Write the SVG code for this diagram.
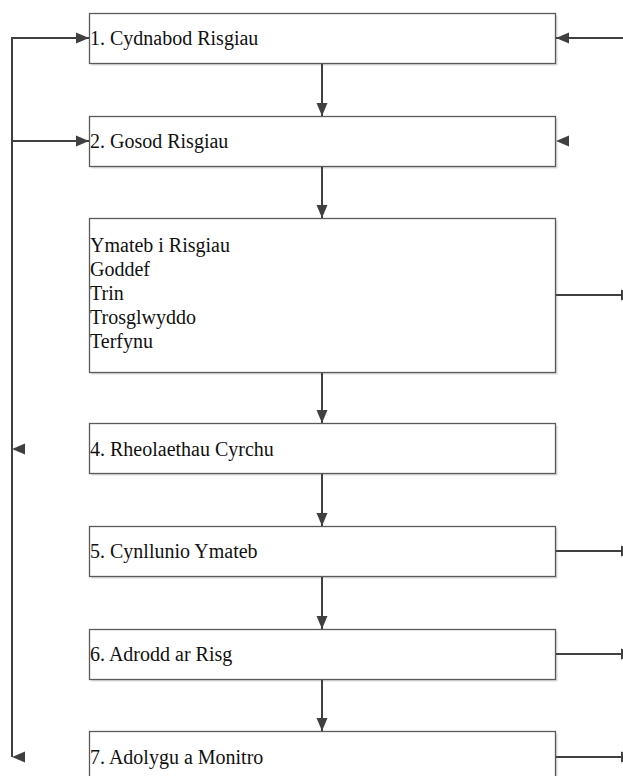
<svg xmlns="http://www.w3.org/2000/svg" width="623" height="776" viewBox="0 0 623 776">
<style>
.box{fill:#ffffff;stroke:#5a5a5a;stroke-width:1.3}
.sh{fill:#dcdcdc}
.t{font-family:"Liberation Serif","Times New Roman",serif;font-size:20px;fill:#111}
.c{fill:none;stroke:#404040;stroke-width:2}
.h{fill:#404040}
</style>
<defs>
<marker id="ar" markerUnits="userSpaceOnUse" markerWidth="13" markerHeight="13" viewBox="0 0 13 13" refX="13" refY="6.5" orient="auto">
<path d="M0,1 L13,6.5 L0,12 z" fill="#404040"/>
</marker>
</defs>
<rect width="623" height="776" fill="#ffffff"/>
<g id="n1"><rect class="sh" x="91.5" y="15.5" width="466" height="50"/><rect class="box" x="89.5" y="13.5" width="466" height="50"/><text class="t" x="90" y="45">1. Cydnabod Risgiau</text></g>
<g id="n2"><rect class="sh" x="91.5" y="118.5" width="466" height="50"/><rect class="box" x="89.5" y="116.5" width="466" height="50"/><text class="t" x="90" y="148">2. Gosod Risgiau</text></g>
<g id="n3"><rect class="sh" x="91.5" y="220.5" width="466" height="154"/><rect class="box" x="89.5" y="218.5" width="466" height="154"/><text class="t" x="90" y="252">Ymateb i Risgiau</text><text class="t" x="90" y="276">Goddef</text><text class="t" x="90" y="300">Trin</text><text class="t" x="90" y="324">Trosglwyddo</text><text class="t" x="90" y="348">Terfynu</text></g>
<g id="n4"><rect class="sh" x="91.5" y="425.5" width="466" height="50"/><rect class="box" x="89.5" y="423.5" width="466" height="50"/><text class="t" x="90" y="456">4. Rheolaethau Cyrchu</text></g>
<g id="n5"><rect class="sh" x="91.5" y="528.5" width="466" height="50"/><rect class="box" x="89.5" y="526.5" width="466" height="50"/><text class="t" x="90" y="558">5. Cynllunio Ymateb</text></g>
<g id="n6"><rect class="sh" x="91.5" y="631.5" width="466" height="50"/><rect class="box" x="89.5" y="629.5" width="466" height="50"/><text class="t" x="90" y="661">6. Adrodd ar Risg</text></g>
<g id="n7"><rect class="sh" x="91.5" y="733.5" width="466" height="50"/><rect class="box" x="89.5" y="731.5" width="466" height="50"/><text class="t" x="90" y="764">7. Adolygu a Monitro</text></g>
<g id="connectors">
<line class="c" x1="322" y1="64" x2="322" y2="116" marker-end="url(#ar)"/>
<line class="c" x1="322" y1="167" x2="322" y2="218" marker-end="url(#ar)"/>
<line class="c" x1="322" y1="373" x2="322" y2="423" marker-end="url(#ar)"/>
<line class="c" x1="322" y1="474" x2="322" y2="526" marker-end="url(#ar)"/>
<line class="c" x1="322" y1="577" x2="322" y2="629" marker-end="url(#ar)"/>
<line class="c" x1="322" y1="680" x2="322" y2="731" marker-end="url(#ar)"/>
<path class="c" d="M12,757 L12,38 L89,38" marker-end="url(#ar)"/>
<line class="c" x1="12" y1="141" x2="89" y2="141" marker-end="url(#ar)"/>
<polygon class="h" points="12,449 25,443.5 25,454.5"/>
<polygon class="h" points="12,757 25,751.5 25,762.5"/>
<line class="c" x1="623" y1="38" x2="556" y2="38" marker-end="url(#ar)"/>
<polygon class="h" points="556,141 569,135.5 569,146.5"/>
<line class="c" x1="556" y1="295" x2="634" y2="295" marker-end="url(#ar)"/>
<line class="c" x1="556" y1="551" x2="634" y2="551" marker-end="url(#ar)"/>
<line class="c" x1="556" y1="654" x2="634" y2="654" marker-end="url(#ar)"/>
<line class="c" x1="556" y1="757" x2="634" y2="757" marker-end="url(#ar)"/>
</g>
</svg>
